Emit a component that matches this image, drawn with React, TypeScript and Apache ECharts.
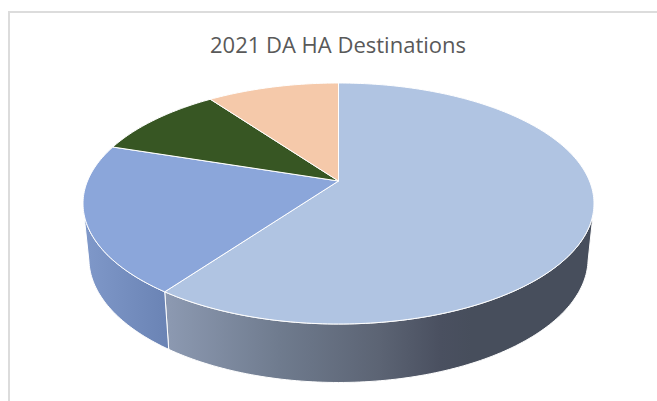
import React, { useEffect, useRef } from "react";
import * as echarts from "echarts";

const titleText = "2021 DA HA Destinations";
const categories = ["Destination A", "Destination B", "Destination C", "Destination D"];
const shares = [60, 20, 10, 10];
const topColors = ["#b0c4e2", "#8ba6da", "#375623", "#f5c9aa"];
const wallStops = [
  [[0, "#8c99b1"], [0.265, "#6f7b8e"], [0.5, "#5c6474"], [0.645, "#4a5060"], [0.72, "#474e5c"], [1, "#474e5c"]],
  [[0, "#7f98c9"], [1, "#6a83b4"]],
  [[0, "#2b431b"], [1, "#2b431b"]],
  [[0, "#c29e85"], [1, "#c29e85"]],
];

// Perspective model of the disc (fitted to the picture)
const cx = 338.5;
const apexY = 181;
const a = 251;
const b = 116.3;
const p = 0.1867;
const floorScaleX = 0.977;
const floorScaleY = 1.03;
const floorApexY = 235.2;
// Wall is only visible between the two silhouette tangents
const wallFrom = 102;
const wallTo = 258;

const total = shares.reduce((s, v) => s + v, 0);

function project(deg: number, floor: boolean): number[] {
  const t = (deg * Math.PI) / 180;
  const x = Math.sin(t);
  const y = -Math.cos(t);
  const w = 1 / (1 - p * y);
  const X = a * x * w;
  const Y = b * y * w;
  return floor
    ? [cx + X * floorScaleX, floorApexY + Y * floorScaleY]
    : [cx + X, apexY + Y];
}

function span(idx: number): [number, number] {
  let before = 0;
  for (let i = 0; i < idx; i++) before += shares[i];
  return [(before / total) * 360, ((before + shares[idx]) / total) * 360];
}

function arc(from: number, to: number, floor: boolean): number[][] {
  const pts: number[][] = [];
  const n = Math.max(2, Math.ceil(Math.abs(to - from)));
  for (let i = 0; i <= n; i++) pts.push(project(from + ((to - from) * i) / n, floor));
  return pts;
}

export default function App() {
  const ref = useRef<HTMLDivElement>(null);
  useEffect(() => {
    document.body.style.margin = "0";
    const chart = echarts.init(ref.current!, null, { renderer: "svg" });
    const data = categories.map((name, i) => ({ name, value: shares[i] }));
    chart.setOption({
      animation: false,
      backgroundColor: "#ffffff",
      title: {
        text: titleText,
        left: 205,
        top: 28,
        textStyle: { fontFamily: "Open Sans", fontSize: 22, fontWeight: "normal", color: "#595959" },
      },
      graphic: [
        {
          type: "rect",
          shape: { x: 9, y: 12, width: 700, height: 420 },
          style: { fill: "none", stroke: "#dcdcdc", lineWidth: 2 },
          z: 0,
        },
      ],
      series: [
        {
          type: "custom",
          coordinateSystem: "none",
          z: 2,
          data,
          renderItem: (params: any) => {
            const [s0, e0] = span(params.dataIndex);
            const s = Math.max(s0, wallFrom);
            const e = Math.min(e0, wallTo);
            if (e <= s) return null;
            const points = [...arc(s, e, false), ...arc(e, s, true)];
            return {
              type: "polygon",
              shape: { points },
              style: {
                fill: new echarts.graphic.LinearGradient(
                  params.dataIndex === 0 ? 168 : 85, 0,
                  params.dataIndex === 0 ? 590 : 169, 0,
                  wallStops[params.dataIndex].map(([offset, color]) => ({ offset, color })) as any,
                  true
                ),
                stroke: "#ffffff",
                lineWidth: 1,
              },
            };
          },
        },
        {
          type: "custom",
          coordinateSystem: "none",
          z: 3,
          data,
          renderItem: (params: any) => {
            const [s, e] = span(params.dataIndex);
            const points = [[cx, apexY], ...arc(s, e, false)];
            return {
              type: "polygon",
              shape: { points },
              style: { fill: topColors[params.dataIndex], stroke: "#ffffff", lineWidth: 1 },
            };
          },
        },
      ],
    });
    return () => chart.dispose();
  }, []);
  return <div ref={ref} style={{ width: 657, height: 401 }} />;
}
